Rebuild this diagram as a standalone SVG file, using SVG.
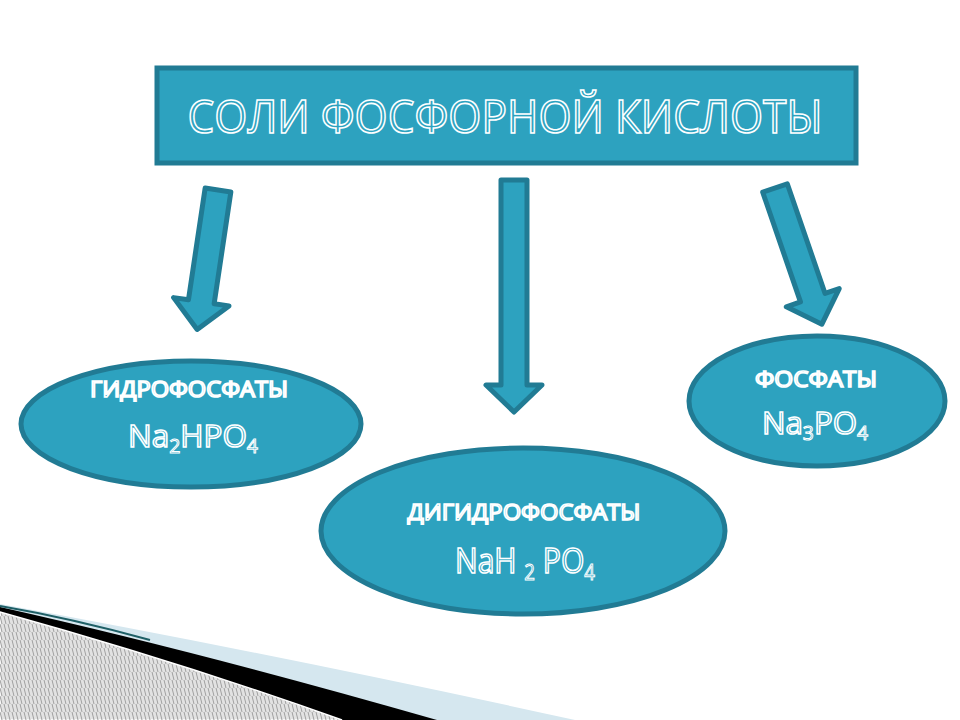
<svg xmlns="http://www.w3.org/2000/svg" width="960" height="720" viewBox="0 0 960 720">
<style>
.box{fill:#2DA2BF;stroke:#217B94;stroke-width:5}
.arr{fill:#2DA2BF;stroke:#217B94;stroke-width:5;stroke-linejoin:round}
.ol{font-family:"Open Sans","Liberation Sans",sans-serif;fill:#2DA2BF;stroke:#FFFFFF;stroke-width:1.6;text-anchor:middle}
.sub{font-size:0.62em;stroke-width:1}
</style>
<defs>
<pattern id="hatch" x="0" y="0" width="4" height="8" patternUnits="userSpaceOnUse">
<path d="M0,0 L2,8 M4,0 L6,8 M-4,0 L-2,8" stroke="#A0A0A0" stroke-width="1" fill="none"/>
</pattern>
</defs>
<rect width="960" height="720" fill="#FFFFFF"/>
<g id="decor">
<path d="M0,604 Q280,655 575,720 L0,720 Z" fill="#D5E7EF"/>
<path d="M0,607 Q200,652 437,720 L0,720 Z" fill="#000000"/>
<path d="M0,606 Q70,618 150,640" fill="none" stroke="#1E5F66" stroke-width="2"/>
<path d="M0,612 Q180,662 342,720 L0,720 Z" fill="#E2E2E2" stroke="#FFFFFF" stroke-width="1.5"/>
<path d="M0,613 Q180,663 340,720 L0,720 Z" fill="url(#hatch)"/>
</g>
<g id="connectors">
<path class="arr" transform="translate(218,190) rotate(8.5)" d="M-13,0 H13 V113 H28 L0,141 L-28,113 H-13 Z"/>
<path class="arr" transform="translate(514,180) rotate(0)" d="M-13,0 H13 V205 H28 L0,232 L-28,205 H-13 Z"/>
<path class="arr" transform="translate(775,188) rotate(-19)" d="M-13,0 H13 V116 H28 L0,144 L-28,116 H-13 Z"/>
</g>
<g id="title">
<rect class="box" x="157" y="68" width="699" height="95"/>
<text class="ol" x="505" y="133" font-size="46" textLength="635" lengthAdjust="spacingAndGlyphs">СОЛИ ФОСФОРНОЙ КИСЛОТЫ</text>
</g>
<g id="hydro">
<ellipse class="box" cx="191" cy="424" rx="170" ry="63"/>
<text class="ol" x="189" y="397" font-size="21" stroke-width="1.1" textLength="198" lengthAdjust="spacingAndGlyphs">ГИДРОФОСФАТЫ</text>
<text class="ol" x="193" y="447" font-size="31" stroke-width="1.3" textLength="130" lengthAdjust="spacingAndGlyphs">Na<tspan class="sub" dy="6">2</tspan><tspan dy="-6">HPO</tspan><tspan class="sub" dy="6">4</tspan></text>
</g>
<g id="dihydro">
<ellipse class="box" cx="523" cy="531" rx="202" ry="83"/>
<text class="ol" x="524" y="520" font-size="22" stroke-width="1.1" textLength="233" lengthAdjust="spacingAndGlyphs">ДИГИДРОФОСФАТЫ</text>
<text class="ol" x="525" y="573" font-size="34" stroke-width="1.3" textLength="140" lengthAdjust="spacingAndGlyphs">NaH <tspan class="sub" dy="7">2</tspan><tspan dy="-7"> PO</tspan><tspan class="sub" dy="7">4</tspan></text>
</g>
<g id="phosph">
<ellipse class="box" cx="817" cy="401" rx="128" ry="65"/>
<text class="ol" x="816" y="387" font-size="21" stroke-width="1.1" textLength="122" lengthAdjust="spacingAndGlyphs">ФОСФАТЫ</text>
<text class="ol" x="815" y="434" font-size="31" stroke-width="1.3" textLength="106" lengthAdjust="spacingAndGlyphs">Na<tspan class="sub" dy="6">3</tspan><tspan dy="-6">PO</tspan><tspan class="sub" dy="6">4</tspan></text>
</g>
</svg>
